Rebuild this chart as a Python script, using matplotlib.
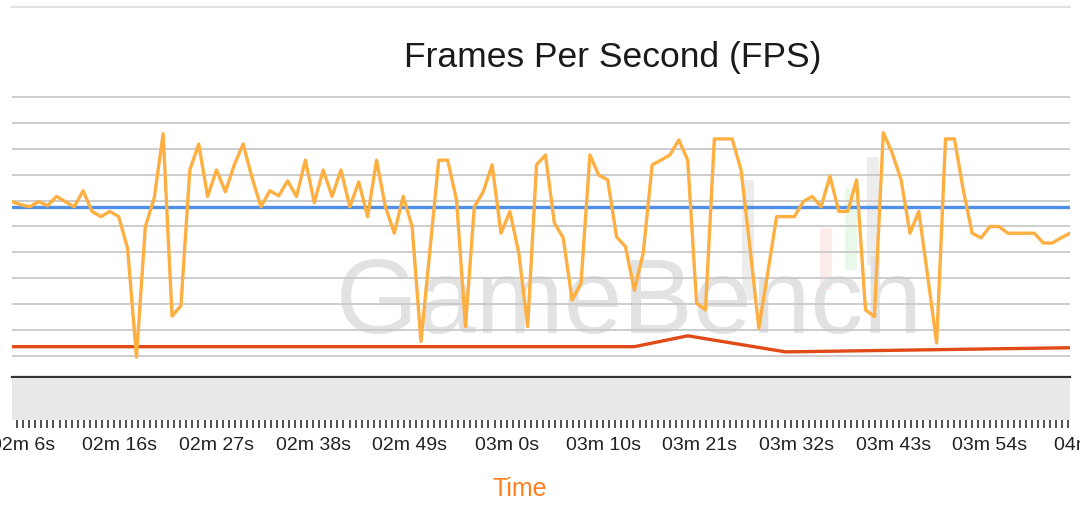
import numpy as np
import matplotlib
matplotlib.use("Agg")
import matplotlib.pyplot as plt
from matplotlib.ticker import FixedLocator, FuncFormatter
from matplotlib.patches import Rectangle
from matplotlib.transforms import offset_copy

plt.rcParams['font.family'] = ['Liberation Sans', 'DejaVu Sans']

# ---------------- data ----------------
fps_values = [
    34.8, 34.2, 33.8, 34.8, 34.0, 35.8, 34.8, 33.8, 36.9, 32.9,
    31.9, 32.9, 31.9, 25.8, 4.8, 30.0, 35.5, 47.9, 12.7, 14.7,
    40.9, 45.9, 35.8, 40.9, 36.7, 41.9, 45.9, 39.4, 33.8, 36.9,
    35.9, 38.8, 35.8, 42.8, 34.6, 40.9, 35.8, 40.9, 33.8, 38.6,
    31.9, 42.8, 33.8, 28.7, 35.8, 30.0, 7.8, 25.3, 42.8, 42.8,
    35.1, 10.7, 33.8, 36.7, 41.9, 28.7, 32.9, 24.9, 10.7, 41.9,
    43.8, 30.7, 27.8, 15.8, 19.1, 43.8, 39.9, 39.0, 28.0, 26.1,
    17.7, 24.9, 41.9, 42.8, 43.8, 46.7, 42.8, 15.2, 13.9, 46.9,
    46.9, 46.9, 40.9, 26.0, 10.4, 21.0, 31.9, 31.9, 31.9, 34.8,
    35.8, 33.8, 39.7, 32.9, 32.9, 39.0, 13.9, 12.6, 48.1, 44.2,
    39.0, 28.7, 32.9, 20.3, 7.5, 46.9, 46.9, 37.0, 28.7, 27.8,
    30.0, 30.0, 28.7, 28.7, 28.7, 28.7, 26.8, 26.8, 27.8, 28.7,
]
first_sample_s = 124.84      # time of first sample (s)
sample_step_s = 0.9933       # sampling interval (s)

median_fps = 33.8            # blue reference line

red_sample_idx = [0, 70, 76, 87, 119]
red_values = [6.8, 6.8, 8.9, 5.8, 6.6]

label_start_s = 126.1
label_step_s = 10.8
n_labels = 12
grid_levels = [5, 10, 15, 20, 25, 30, 35, 40, 45, 50, 55]

# ---------------- derived ----------------
t = first_sample_s + sample_step_s * np.arange(len(fps_values))
red_t = [t[i] for i in red_sample_idx]
x_min, x_max = t[0], t[-1]
label_pos = [label_start_s + k * label_step_s for k in range(n_labels)]
minor_step = label_step_s / 16.0
minor_pos = np.arange(label_start_s - 2 * label_step_s, x_max + 1, minor_step)


def fmt_time(v, pos=None):
    s = int(v)
    return f"{s // 60:02d}m {s % 60}s"


# ---------------- figure ----------------
fig = plt.figure(figsize=(10.8, 5.2), dpi=100)
FW, FH = 1080.0, 520.0
left = 12 / FW
width = 1058 / FW

ax = fig.add_axes([left, (FH - 377) / FH, width, (377 - 7.3) / FH])
ax.set_xlim(x_min, x_max)
ax.set_ylim(0.95, 72.3)
ax.set_yticks(grid_levels)
ax.set_xticks([])
ax.tick_params(axis='y', length=0, labelleft=False)
ax.tick_params(axis='x', length=0, labelbottom=False)
ax.grid(axis='y', color='#c9c9c9', linewidth=1.3, zorder=1)
ax.set_axisbelow(True)
for s in ['left', 'right']:
    ax.spines[s].set_visible(False)
ax.spines['top'].set_color('#e2e2e2')
ax.spines['top'].set_linewidth(1.5)
ax.spines['bottom'].set_color('#333333')
ax.spines['bottom'].set_linewidth(1.6)
ax.spines['bottom'].set_zorder(5)

# watermark (faint logo bars + word), drawn beneath the grid
def px_rect(x0, y0, x1, y1, color):
    ax.add_patch(Rectangle((x0 / FW, 1 - y1 / FH), (x1 - x0) / FW,
                           (y1 - y0) / FH, transform=fig.transFigure,
                           facecolor=color, edgecolor='none', zorder=0.1,
                           clip_on=False))

px_rect(742, 180, 754, 300, '#ededed')
px_rect(820, 228, 832, 290, '#fcecec')
px_rect(845, 188, 857, 270, '#e9f8e9')
px_rect(867, 157, 879, 265, '#ededed')

ax.text(0.583, 0.118, 'GameBench', transform=ax.transAxes, ha='center',
        va='baseline', fontsize=76, color='#e2e2e2', zorder=0.2)

ax.axhline(median_fps, color='#4f8fe8', linewidth=2.4, zorder=3)
ax.plot(red_t, red_values, color='#e04a17', linewidth=2.4, zorder=3,
        solid_joinstyle='round')
ax.plot(t, fps_values, color='#fdaf42', linewidth=2.4, zorder=4,
        solid_joinstyle='round')

# gray band with time axis
ax2 = fig.add_axes([left, (FH - 420) / FH, width, 42 / FH])
ax2.set_facecolor('#e8e8e8')
for s in ax2.spines.values():
    s.set_visible(False)
ax2.set_yticks([])
ax2.xaxis.set_major_locator(FixedLocator(label_pos))
ax2.xaxis.set_major_formatter(FuncFormatter(fmt_time))
ax2.xaxis.set_minor_locator(FixedLocator(minor_pos))
tick_len, tick_pad = 6.0, 6.5
ax2.tick_params(axis='x', which='both', direction='out', length=tick_len,
                width=1.2, color='#333333', pad=tick_pad, labelsize=14,
                labelcolor='#222222')
ax2.set_xlim(x_min, x_max)

# label beyond the right edge (partly clipped by the figure border)
lab_tr = offset_copy(ax2.get_xaxis_transform(), fig=fig, x=0,
                     y=-(tick_len + tick_pad), units='points')
for p in label_pos:
    if p > x_max:
        ax2.text(p, 0.0, fmt_time(p), transform=lab_tr,
                 ha='center', va='top', fontsize=14, color='#222222',
                 clip_on=False)

fig.text(613 / FW, 1 - 58 / FH, 'Frames Per Second (FPS)', ha='center',
         va='center', fontsize=25.5, color='#1a1a1a')
fig.text(520 / FW, 1 - 489 / FH, 'Time', ha='center', va='center',
         fontsize=18, color='#ff7f1e')

fig.savefig('out.png', dpi=100, facecolor='white')
